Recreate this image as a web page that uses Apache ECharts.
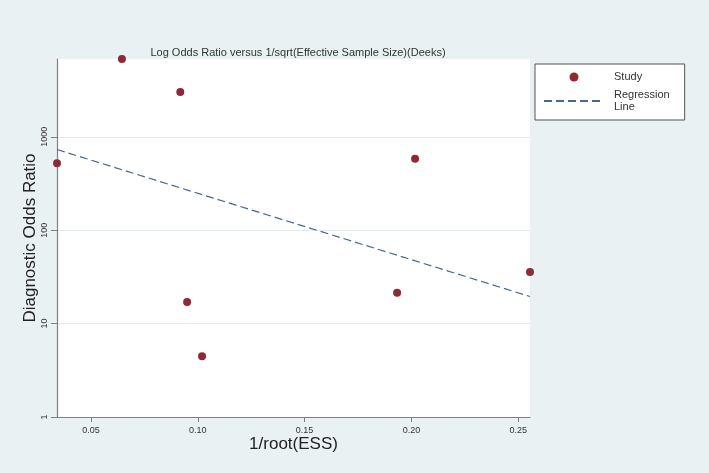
<!DOCTYPE html>
<html>
<head>
<meta charset="utf-8">
<script src="https://cdn.jsdelivr.net/npm/echarts@6/dist/echarts.min.js"></script>
<style>
  html, body { margin: 0; padding: 0; background: #eaf1f3; }
  #chart { width: 709px; height: 473px; }
</style>
</head>
<body>
<div id="chart"></div>
<script>
// Study points: 1/sqrt(ESS) and diagnostic odds ratio
const studyX = [0.0341, 0.0645, 0.0918, 0.0950, 0.1020, 0.1933, 0.2017, 0.2555];
const studyDOR = [521, 6800, 3020, 17.0, 4.48, 21.4, 581, 35.6];
// Regression line endpoints
const regX = [0.0341, 0.2555];
const regDOR = [730, 19.5];
// Axis ticks
const xTicks = [0.05, 0.10, 0.15, 0.20, 0.25];
const yTicks = [1, 10, 100, 1000];
const xRange = [0.0341, 0.2555];
const yRange = [1, 6800];

const chart = echarts.init(document.getElementById('chart'));
const font = 'Liberation Sans, Arial, sans-serif';

chart.setOption({
  backgroundColor: '#eaf1f3',
  animation: false,
  title: {
    text: 'Log Odds Ratio versus 1/sqrt(Effective Sample Size)(Deeks)',
    left: 293,
    top: 42,
    textAlign: 'center',
    textStyle: { fontFamily: font, fontSize: 11, fontWeight: 'normal', color: '#333' }
  },
  legend: {
    orient: 'vertical',
    left: 535,
    top: 64,
    backgroundColor: '#fff',
    borderColor: '#555',
    borderWidth: 1,
    padding: [7, 15, 7, 8],
    itemGap: 6,
    itemWidth: 60,
    itemHeight: 9,
    textStyle: { fontFamily: font, fontSize: 11, color: '#333', lineHeight: 12, padding: [0, 0, 0, 5] },
    data: [
      { name: 'Study', icon: 'circle', itemStyle: { opacity: 1 } },
      { name: 'Regression\nLine', itemStyle: { opacity: 0 } }
    ]
  },
  grid: {
    left: 57, right: 179, top: 59, bottom: 56,
    show: true, backgroundColor: '#fff', borderWidth: 0
  },
  xAxis: {
    type: 'value',
    min: xRange[0], max: xRange[1],
    name: '1/root(ESS)',
    nameLocation: 'middle',
    nameGap: 19,
    nameMoveOverlap: false,
    nameTextStyle: { fontFamily: font, fontSize: 17, color: '#222' },
    axisLine: { show: true, onZero: false, lineStyle: { color: '#808080', width: 1.2 } },
    axisTick: { show: true, length: 5, customValues: xTicks, lineStyle: { color: '#808080' } },
    axisLabel: {
      customValues: xTicks, margin: 9,
      fontFamily: font, fontSize: 9, color: '#333',
      formatter: v => v.toFixed(2)
    },
    splitLine: { show: false }
  },
  yAxis: {
    type: 'log',
    min: yRange[0], max: yRange[1],
    name: 'Diagnostic Odds Ratio',
    nameLocation: 'middle',
    nameGap: 18,
    nameMoveOverlap: false,
    nameTextStyle: { fontFamily: font, fontSize: 17, color: '#222' },
    axisLine: { show: true, onZero: false, lineStyle: { color: '#808080', width: 1.2 } },
    axisTick: { show: true, length: 6, customValues: yTicks, lineStyle: { color: '#808080' } },
    axisLabel: {
      customValues: yTicks, rotate: 90, margin: 8,
      fontFamily: font, fontSize: 9, color: '#333',
      formatter: v => String(Math.round(v))
    },
    splitLine: { show: true, lineStyle: { color: '#e3eaee', width: 1.2 } }
  },
  series: [
    {
      name: 'Study',
      type: 'scatter',
      clip: false,
      symbolSize: 8,
      itemStyle: { color: '#8e2a36', opacity: 1 },
      data: studyX.map((x, i) => [x, studyDOR[i]])
    },
    {
      name: 'Regression\nLine',
      type: 'line',
      symbol: 'none',
      showSymbol: false,
      clip: false,
      lineStyle: { color: '#4a6688', width: 1.2, type: [8, 4] },
      itemStyle: { color: '#4a6688' },
      data: regX.map((x, i) => [x, regDOR[i]])
    }
  ]
});
</script>
</body>
</html>
